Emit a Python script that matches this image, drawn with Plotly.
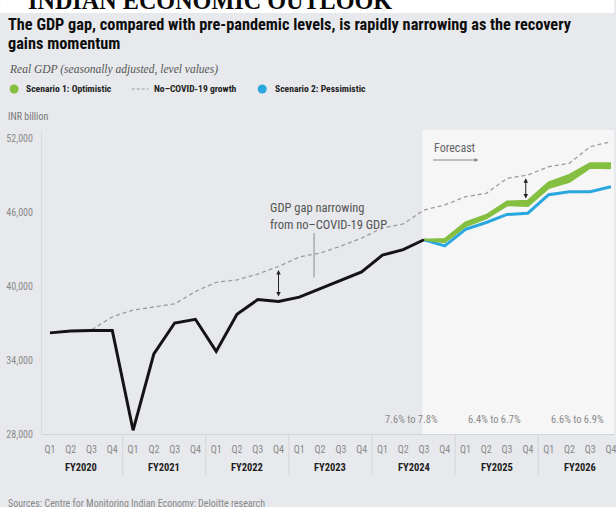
import plotly.graph_objects as go

# ---------------- data ----------------
quarter_labels = ["Q1", "Q2", "Q3", "Q4"] * 7
fiscal_years = ["FY2020", "FY2021", "FY2022", "FY2023", "FY2024", "FY2025", "FY2026"]

actual_gdp = [36200, 36350, 36400, 36400, 28300, 34500, 37000, 37300, 34700, 37700,
              38900, 38750, 39100, 39800, 40500, 41150, 42500, 42950, 43750]

no_covid_gdp = [36200, 36350, 36450, 37500, 38050, 38300, 38550, 39550, 40300, 40500,
                40970, 41580, 42350, 42670, 43240, 43890, 44700, 45030, 46160, 46570,
                47240, 47510, 48730, 49000, 49670, 49950, 51300, 51700]

optimistic_upper = [43750, 43800, 45150, 45750, 46850, 46900, 48400, 49000, 49950, 49950]
optimistic_lower = [43750, 43550, 44850, 45500, 46550, 46500, 47950, 48450, 49600, 49550]
pessimistic_gdp = [43750, 43250, 44600, 45150, 45800, 45900, 47400, 47650, 47650, 48050]

growth_ranges = ["7.6% to 7.8%", "6.4% to 6.7%", "6.6% to 6.9%"]
y_ticks = [28000, 34000, 40000, 46000, 52000]

# ---------------- layout constants ----------------
W, H = 616, 507
ML, MR, MT, MB = 42, 0, 130, 73
PW, PH = W - ML - MR, H - MT - MB
STEP = 20.85
X0 = 50

def pxx(x):
    return (x - ML) / PW

def pxy(y):
    return (H - MB - y) / PH

SANS = "Liberation Sans Narrow, Arial Narrow, Roboto Condensed, DejaVu Sans Condensed, Roboto, sans-serif"
SERIF = "Liberation Serif, DejaVu Serif, serif"
BG = "#e7e9ec"
GREEN = "#84bf41"
BLUE = "#2aa7df"

n_all = len(quarter_labels)
idx_all = list(range(n_all))
idx_act = list(range(len(actual_gdp)))
f0 = len(actual_gdp) - 1
idx_fc = list(range(f0, f0 + len(pessimistic_gdp)))

fig = go.Figure()

fig.add_trace(go.Scatter(x=idx_all, y=no_covid_gdp, mode="lines",
                         line=dict(color="#9b9b9b", width=1.3, dash="4px,3px"),
                         hoverinfo="skip", showlegend=False))
fig.add_trace(go.Scatter(x=idx_fc, y=pessimistic_gdp, mode="lines",
                         line=dict(color=BLUE, width=3),
                         hoverinfo="skip", showlegend=False))
fig.add_trace(go.Scatter(x=idx_fc, y=optimistic_lower, mode="lines",
                         line=dict(color=GREEN, width=2.2),
                         hoverinfo="skip", showlegend=False))
fig.add_trace(go.Scatter(x=idx_fc, y=optimistic_upper, mode="lines",
                         line=dict(color=GREEN, width=2.2), fill="tonexty",
                         fillcolor=GREEN, hoverinfo="skip", showlegend=False))
fig.add_trace(go.Scatter(x=idx_act, y=actual_gdp, mode="lines",
                         line=dict(color="#141414", width=3),
                         hoverinfo="skip", showlegend=False))

x_lo = (ML - X0) / STEP
x_hi = (W - MR - X0) / STEP
y_per_px = 6000 / 74.0
y_lo = 28000
y_hi = 28000 + PH * y_per_px

shapes = []
# white header strip
shapes.append(dict(type="rect", xref="paper", yref="paper", x0=pxx(0), x1=pxx(W),
                   y0=pxy(13), y1=pxy(0), fillcolor="white", line=dict(width=0), layer="below"))
# forecast region
shapes.append(dict(type="rect", xref="x", yref="paper", x0=f0 - 0.08, x1=x_hi,
                   y0=0, y1=1, fillcolor="#f6f6f6", line=dict(width=0), layer="below"))
# fiscal-year dividers
for k in range(1, len(fiscal_years)):
    xv = 4 * k - 0.5
    shapes.append(dict(type="line", xref="x", yref="paper", x0=xv, x1=xv,
                       y0=pxy(475), y1=0, line=dict(color="#d2d5d8", width=1)))
# pointer line under the annotation
shapes.append(dict(type="line", xref="x", yref="y", x0=(315 - X0) / STEP, x1=(315 - X0) / STEP,
                   y0=40700, y1=44300, line=dict(color="#8c8c8c", width=1)))
# legend marks
shapes.append(dict(type="circle", xref="paper", yref="paper", x0=pxx(9.5), x1=pxx(18.5),
                   y0=pxy(93.5), y1=pxy(84.5), fillcolor=GREEN, line=dict(width=0)))
shapes.append(dict(type="line", xref="paper", yref="paper", x0=pxx(132), x1=pxx(149),
                   y0=pxy(89), y1=pxy(89), line=dict(color="#9b9b9b", width=1.2, dash="3px,2px")))
shapes.append(dict(type="circle", xref="paper", yref="paper", x0=pxx(258.5), x1=pxx(267.5),
                   y0=pxy(93.5), y1=pxy(84.5), fillcolor=BLUE, line=dict(width=0)))

ann = []
def text(x, y, s, size, color, family=SANS, xanchor="left", bold=False, italic=False):
    if bold:
        s = "<b>" + s + "</b>"
    if italic:
        s = "<i>" + s + "</i>"
    ann.append(dict(xref="paper", yref="paper", x=pxx(x), y=pxy(y), text=s, showarrow=False,
                    xanchor=xanchor, yanchor="middle", align="left",
                    font=dict(family=family, size=size, color=color)))

text(26, 0, "INDIAN ECONOMIC OUTLOOK", 24.2, "#0a0a0a", family=SERIF, bold=True)
text(6, 25, "The GDP gap, compared with pre-pandemic levels, is rapidly narrowing as the recovery", 16.3, "#0d0d0d", bold=True)
text(6, 44, "gains momentum", 16.3, "#0d0d0d", bold=True)
text(7, 69, "Real GDP (seasonally adjusted, level values)", 11.5, "#555", family=SERIF, italic=True)
text(24, 89, "Scenario 1: Optimistic", 9.6, "#222", bold=True)
text(152, 89, "No–COVID-19 growth", 9.6, "#222", bold=True)
text(274, 89, "Scenario 2: Pessimistic", 9.6, "#222", bold=True)
text(6, 116, "INR billion", 10, "#777")
text(6, 503, "Sources: Centre for Monitoring Indian Economy; Deloitte research", 10, "#888")
text(269, 207, "GDP gap narrowing", 12.5, "#555")
text(269, 224, "from no–COVID-19 GDP", 12.5, "#555")
text(433, 148, "Forecast", 12, "#666")

# fiscal year labels
for k, fy in enumerate(fiscal_years):
    ann.append(dict(xref="x", yref="paper", x=4 * k + 1.5, y=pxy(467), text="<b>" + fy + "</b>",
                    showarrow=False, xanchor="center", yanchor="middle",
                    font=dict(family=SANS, size=10.5, color="#1e1e1e")))
# growth ranges
for k, g in enumerate(growth_ranges):
    ann.append(dict(xref="x", yref="paper", x=4 * (k + 4) + 1.4, y=pxy(419), text=g,
                    showarrow=False, xanchor="center", yanchor="middle",
                    font=dict(family=SANS, size=10.5, color="#8a8a8a")))
# forecast arrow
ann.append(dict(xref="paper", yref="paper", x=pxx(480), y=pxy(160), ax=-47, ay=0,
                axref="pixel", ayref="pixel", text="", showarrow=True, arrowhead=2,
                arrowsize=0.8, arrowwidth=1, arrowcolor="#888"))
# gap arrows
ann.append(dict(xref="x", yref="y", x=11, y=41300, ax=11, ay=39030, axref="x", ayref="y",
                text="", showarrow=True, arrowhead=2, arrowside="end+start", arrowsize=0.9,
                arrowwidth=1, arrowcolor="#222"))
ann.append(dict(xref="x", yref="y", x=22.9, y=48730, ax=22.9, ay=46970, axref="x", ayref="y",
                text="", showarrow=True, arrowhead=2, arrowside="end+start", arrowsize=0.9,
                arrowwidth=1, arrowcolor="#222"))

fig.update_layout(
    width=W, height=H, margin=dict(l=ML, r=MR, t=MT, b=MB),
    paper_bgcolor=BG, plot_bgcolor=BG, showlegend=False,
    shapes=shapes, annotations=ann,
    xaxis=dict(range=[x_lo, x_hi], tickmode="array", tickvals=idx_all, ticktext=quarter_labels,
               showgrid=False, zeroline=False, showline=True, linecolor="#d2d5d8", linewidth=1,
               ticks="", ticklabelstandoff=6, ticklabeloverflow="allow",
               tickfont=dict(family=SANS, size=10, color="#8a8a8a")),
    yaxis=dict(range=[y_lo, y_hi], tickmode="array", tickvals=y_ticks,
               ticktext=[f"{v:,}" for v in y_ticks],
               showgrid=False, zeroline=False, showline=True, linecolor="#d8dbde", linewidth=1,
               ticks="", ticklabelstandoff=6,
               tickfont=dict(family=SANS, size=10, color="#8a8a8a")),
)

fig.write_html("out.html")
